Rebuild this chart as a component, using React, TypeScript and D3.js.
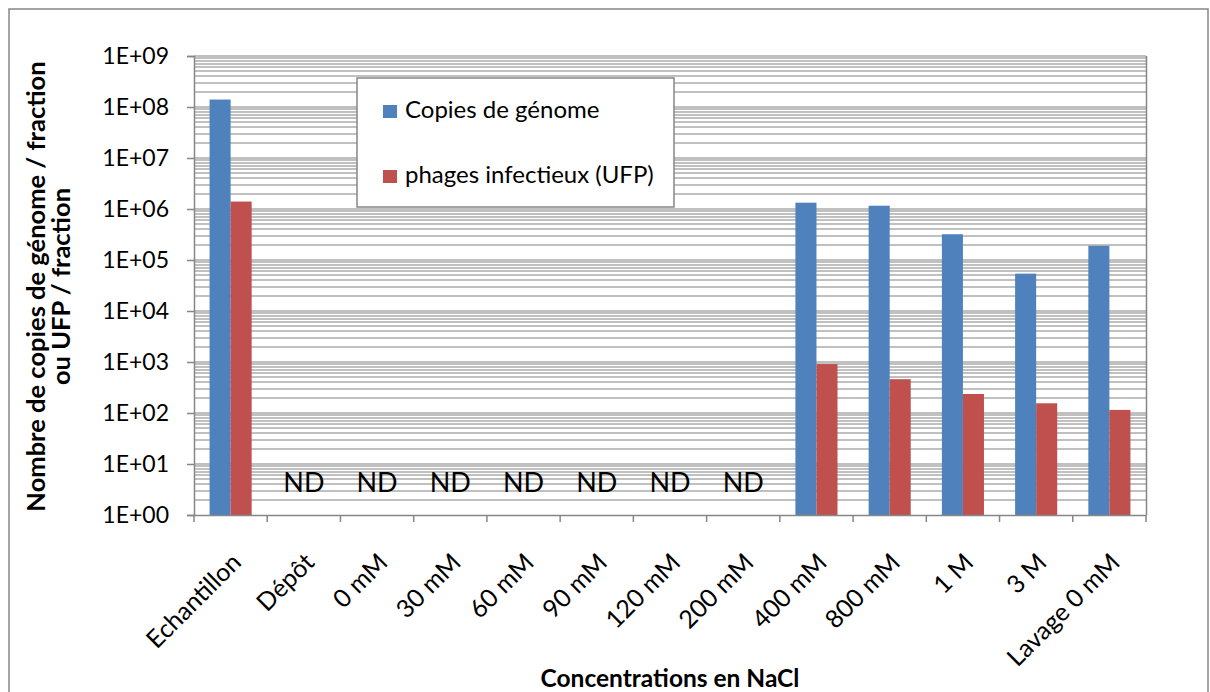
import * as d3 from "d3";
import { useEffect, useRef } from "react";

const categories = [
  "Echantillon",
  "Dépôt",
  "0 mM",
  "30 mM",
  "60 mM",
  "90 mM",
  "120 mM",
  "200 mM",
  "400 mM",
  "800 mM",
  "1 M",
  "3 M",
  "Lavage 0 mM",
];
// null = not detected (ND)
const genomeCopies = [1.4e8, null, null, null, null, null, null, null, 1.33e6, 1.16e6, 3.2e5, 5.4e4, 1.9e5];
const infectiousPhages = [1.4e6, null, null, null, null, null, null, null, 9.1e2, 4.6e2, 2.36e2, 1.55e2, 1.15e2];
const seriesNames = ["Copies de génome", "phages infectieux (UFP)"];
const yTicks = [1, 10, 100, 1e3, 1e4, 1e5, 1e6, 1e7, 1e8, 1e9];

const App = () => {
  const svgRef = useRef<SVGSVGElement>(null);

  useEffect(() => {
    if (!svgRef.current) return;
    const svg = d3.select(svgRef.current);
    svg.selectAll("*").remove();

    const width = 1210;
    const height = 692;
    const marginLeft = 194;
    const marginRight = 64;
    const marginTop = 56;
    const plotBottom = 515;
    const font = "Lato, 'Open Sans', sans-serif";
    const axisColor = "#868686";
    const gridColor = "#ababab";
    const colors = ["#4f81bd", "#c0504d"];

    svg.attr("width", width).attr("height", height).attr("viewBox", [0, 0, width, height]);

    // chart area
    svg
      .append("rect")
      .attr("x", 9)
      .attr("y", 9)
      .attr("width", 1199)
      .attr("height", 700)
      .attr("fill", "white")
      .attr("stroke", axisColor)
      .attr("stroke-width", 1.5);

    const x = d3
      .scaleBand()
      .domain(categories)
      .range([marginLeft, width - marginRight]);

    const xSeries = d3
      .scaleBand()
      .domain(seriesNames)
      .range([0, x.bandwidth()])
      .paddingOuter(0.74);

    const y = d3.scaleLog().domain([1, 1e9]).range([plotBottom, marginTop]);

    // gridlines (major + minor)
    const gridValues: number[] = [];
    for (let e = 0; e < 9; e++) {
      for (let m = 1; m < 10; m++) gridValues.push(m * Math.pow(10, e));
    }
    gridValues.push(1e9);
    svg
      .append("g")
      .attr("stroke", gridColor)
      .attr("stroke-width", 1.5)
      .selectAll()
      .data(gridValues.filter((v) => v > 1))
      .join("line")
      .attr("x1", marginLeft)
      .attr("x2", width - marginRight)
      .attr("y1", (d) => Math.round(y(d)))
      .attr("y2", (d) => Math.round(y(d)));

    // plot right border
    svg
      .append("line")
      .attr("x1", width - marginRight + 0.5)
      .attr("x2", width - marginRight + 0.5)
      .attr("y1", marginTop)
      .attr("y2", plotBottom)
      .attr("stroke", axisColor)
      .attr("stroke-width", 1.5);

    // bars
    const rows = categories.map((c, i) => ({ cat: c, values: [genomeCopies[i], infectiousPhages[i]] }));
    const groups = svg
      .append("g")
      .selectAll()
      .data(rows)
      .join("g")
      .attr("transform", (d) => `translate(${x(d.cat)},0)`);
    groups
      .selectAll("rect")
      .data((d) => d.values.map((v, j) => ({ v, s: seriesNames[j], j })).filter((e) => e.v !== null))
      .join("rect")
      .attr("x", (d) => xSeries(d.s)!)
      .attr("width", xSeries.bandwidth())
      .attr("y", (d) => y(d.v as number))
      .attr("height", (d) => plotBottom - y(d.v as number))
      .attr("fill", (d) => colors[d.j]);

    // ND labels
    svg
      .append("g")
      .selectAll()
      .data(rows.filter((d) => d.values[0] === null))
      .join("text")
      .attr("x", (d) => x(d.cat)! + x.bandwidth() / 2)
      .attr("y", 492)
      .attr("text-anchor", "middle")
      .attr("font-family", font)
      .attr("font-size", 27)
      .attr("fill", "black")
      .text("ND");

    // y axis
    const yAxis = svg
      .append("g")
      .attr("transform", `translate(${marginLeft},0)`)
      .call(
        d3
          .axisLeft(y)
          .tickValues(yTicks)
          .tickSize(7)
          .tickPadding(18)
          .tickFormat((d) => {
            const e = Math.round(Math.log10(d as number));
            return `1E+${String(e).padStart(2, "0")}`;
          })
      );
    yAxis.select(".domain").attr("stroke", axisColor).attr("stroke-width", 1.5);
    yAxis.selectAll(".tick line").attr("stroke", axisColor).attr("stroke-width", 1.5);
    yAxis.selectAll(".tick text").attr("font-family", font).attr("font-size", 23).attr("fill", "black");

    // x axis
    const xAxis = svg
      .append("g")
      .attr("transform", `translate(0,${plotBottom})`)
      .call(d3.axisBottom(x).tickSize(0).tickFormat(() => ""));
    xAxis.select(".domain").attr("stroke", axisColor).attr("stroke-width", 1.5);
    svg
      .append("g")
      .attr("stroke", axisColor)
      .attr("stroke-width", 1.5)
      .selectAll()
      .data([...categories.map((c) => x(c)!), width - marginRight])
      .join("line")
      .attr("x1", (d) => d)
      .attr("x2", (d) => d)
      .attr("y1", plotBottom)
      .attr("y2", plotBottom + 7);

    svg
      .append("g")
      .selectAll()
      .data(categories)
      .join("text")
      .attr("transform", (d) => `translate(${x(d)! + x.bandwidth() / 2 + 12},${564}) rotate(-45)`)
      .attr("text-anchor", "end")
      .attr("font-family", font)
      .attr("font-size", 25)
      .attr("fill", "black")
      .text((d) => d);

    // axis titles
    svg
      .append("text")
      .attr("x", (marginLeft + width - marginRight) / 2)
      .attr("y", 687)
      .attr("text-anchor", "middle")
      .attr("font-family", font)
      .attr("font-weight", "bold")
      .attr("font-size", 24.5)
      .text("Concentrations en NaCl");

    const yTitle = svg
      .append("text")
      .attr("transform", `translate(45,${(marginTop + plotBottom) / 2 + 1}) rotate(-90)`)
      .attr("text-anchor", "middle")
      .attr("font-family", font)
      .attr("font-weight", "bold")
      .attr("font-size", 25.5);
    yTitle.append("tspan").attr("x", 0).attr("y", 0).text("Nombre de copies de génome / fraction");
    yTitle.append("tspan").attr("x", 0).attr("y", 25).text("ou UFP / fraction");

    // legend
    const legend = svg.append("g").attr("transform", "translate(357,78)");
    legend
      .append("rect")
      .attr("width", 317)
      .attr("height", 129)
      .attr("fill", "white")
      .attr("stroke", axisColor)
      .attr("stroke-width", 1.5);
    const item = legend
      .selectAll("g")
      .data(seriesNames)
      .join("g")
      .attr("transform", (_, i) => `translate(26,${27 + i * 65})`);
    item
      .append("rect")
      .attr("width", 14)
      .attr("height", 13)
      .attr("fill", (_, i) => colors[i]);
    item
      .append("text")
      .attr("x", 22)
      .attr("y", 13)
      .attr("font-family", font)
      .attr("font-size", 24)
      .attr("fill", "black")
      .text((d) => d);
  }, []);

  return <svg ref={svgRef} style={{ position: "absolute", left: 0, top: 0 }}></svg>;
};

export default App;
